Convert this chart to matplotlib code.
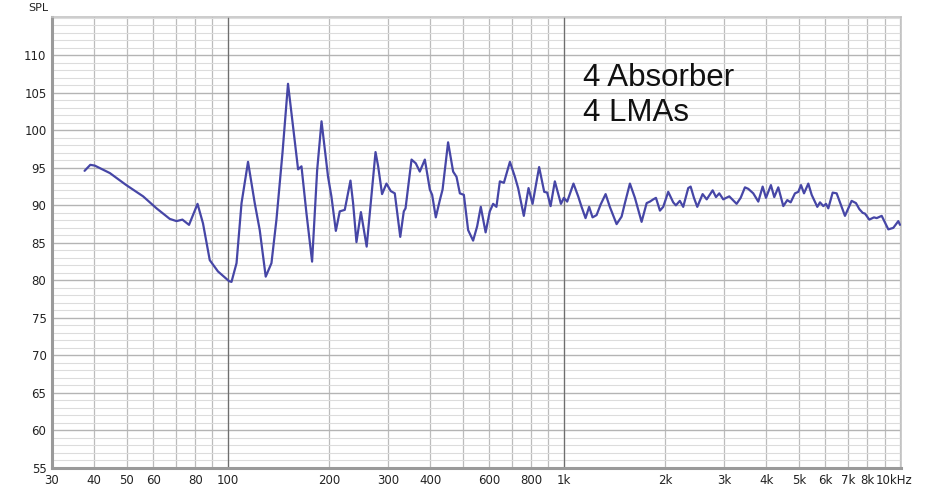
import matplotlib
matplotlib.use("Agg")
import matplotlib.pyplot as plt
import matplotlib.transforms as mtransforms

freq_hz = [37.5, 39.0, 40.2, 44.6, 49.9, 56.0, 61.4, 67.2, 70.4, 73.3, 76.7, 81.3, 84.4, 88.4,
           93.5, 100.9, 102.6, 106.2, 109.9, 114.9, 120.3, 124.5, 129.7, 134.9, 139.6, 145.5,
           151.1, 156.4, 161.9, 165.7, 171.4, 178.2, 184.5, 190.1, 198.8, 203.4, 209.7, 215.4,
           222.9, 231.8, 236, 241.5, 249, 259, 268, 275.2, 280.2, 287.8, 296.6, 305.5, 314,
           326, 334, 338, 352.2, 362.6, 372.7, 385.8, 399.3, 405.6, 415.9, 427.6, 435.6, 452.4,
           468.3, 479.3, 490.4, 504, 519, 537, 552, 566, 585, 602, 616, 630, 645, 663, 691, 715,
           731, 760, 785, 807, 844, 874, 892, 913, 940, 980, 1000, 1023, 1068, 1103, 1129, 1160,
           1189, 1217, 1251, 1286, 1331, 1370, 1435, 1485, 1519, 1572, 1627, 1703, 1763, 1803,
           1845, 1879, 1931, 1975, 2044, 2115, 2154, 2213, 2265, 2344, 2383, 2438, 2494, 2587,
           2660, 2771, 2835, 2900, 2979, 3105, 3265, 3357, 3457, 3537, 3660, 3788, 3903, 3993,
           4130, 4226, 4344, 4496, 4620, 4729, 4870, 4983, 5076, 5181, 5336, 5461, 5675, 5781,
           5914, 6024, 6119, 6305, 6480, 6628, 6859, 7180, 7396, 7568, 7745, 7866, 8103, 8368,
           8525, 8822, 9232, 9552, 9885, 10000]
spl_db = [94.6, 95.4, 95.3, 94.3, 92.7, 91.2, 89.6, 88.2, 87.9, 88.1, 87.4, 90.2, 87.6, 82.7,
          81.2, 79.9, 79.8, 82.3, 90.3, 95.8, 90.3, 86.7, 80.5, 82.3, 88.1, 97.0,
          106.2, 100.5, 94.8, 95.2, 89.0, 82.5, 94.7, 101.2, 93.8, 91.2, 86.6, 89.2,
          89.4, 93.3, 90.3, 85.1, 89.1, 84.5, 91.6, 97.1, 95.2, 91.5, 92.9, 91.9, 91.6,
          85.8, 89.2, 89.6, 96.1, 95.6, 94.5, 96.1, 92.1, 91.4, 88.4, 90.7, 92.1, 98.4,
          94.5, 93.8, 91.6, 91.4, 86.7, 85.3, 87.2, 89.8, 86.4, 89.2, 90.2, 89.8, 93.2, 93.0, 95.8, 93.8,
          92.3, 88.6, 92.3, 90.2, 95.1, 91.8, 91.7, 89.9, 93.2, 90.2, 91.0, 90.5, 92.9, 91.2, 89.8, 88.3,
          89.8, 88.4, 88.7, 90.1, 91.5, 89.8, 87.5, 88.5, 90.3, 92.9, 91.0, 87.8, 90.3, 90.5,
          90.8, 91.0, 89.3, 89.8, 91.8, 90.4, 90.0, 90.6, 89.8, 92.3, 92.5, 91.0, 89.8, 91.5,
          90.8, 92.0, 91.1, 91.6, 90.8, 91.2, 90.2, 91.0, 92.4, 92.2, 91.6, 90.5, 92.5, 91.0,
          92.7, 91.1, 92.4, 89.9, 90.7, 90.4, 91.6, 91.8, 92.7, 91.6, 92.9, 91.4, 89.8, 90.4,
          89.9, 90.2, 89.6, 91.7, 91.6, 90.4, 88.6, 90.6, 90.3, 89.5, 89.0, 88.9, 88.1, 88.4,
          88.3, 88.6, 86.8, 87.0, 87.9, 87.4]

grid_freqs = [30, 40, 50, 60, 70, 80, 90, 100, 200, 300, 400, 500, 600, 700, 800, 900,
              1000, 2000, 3000, 4000, 5000, 6000, 7000, 8000, 9000, 10000]
grid_labels = ["30", "40", "50", "60", "", "80", "", "100", "200", "300", "400", "", "600", "",
               "800", "", "1k", "2k", "3k", "4k", "5k", "6k", "7k", "8k", "", "10kHz"]
y_major = list(range(55, 111, 5))
y_minor = list(range(55, 116, 1))
annotation_lines = ["4 Absorber", "4 LMAs"]

W, H = 926, 492
fig = plt.figure(figsize=(W / 100, H / 100), dpi=100)
ax = fig.add_axes([52 / W, (H - 468) / H, 849 / W, 451 / H])
ax.set_xscale("log")
ax.set_xlim(30, 10069)
ax.set_ylim(55, 115.1)

ax.set_yticks(y_minor, minor=True)
ax.set_yticks(y_major)
ax.set_yticklabels([str(v) for v in y_major])
ax.set_xticks(grid_freqs)
ax.set_xticklabels(grid_labels)
ax.xaxis.set_minor_locator(matplotlib.ticker.NullLocator())

ax.grid(True, axis="y", which="minor", color="#dcdcdc", linewidth=0.8, zorder=0)
ax.grid(True, axis="y", which="major", color="#b4b4b4", linewidth=1.0, zorder=0)
ax.grid(True, axis="x", which="major", color="#bcbcbc", linewidth=0.9, zorder=0)
for f in (100, 1000):
    ax.axvline(f, color="#6e6e6e", linewidth=0.9, zorder=1)
ax.set_axisbelow(True)

ax.tick_params(axis="both", which="both", length=0, labelsize=8.5, colors="#222222")
ax.tick_params(axis="y", pad=4)
ax.tick_params(axis="x", pad=4)

# shift the "10kHz" label slightly left as in the reference
for lbl in ax.get_xticklabels():
    if lbl.get_text() == "10kHz":
        lbl.set_transform(lbl.get_transform() + mtransforms.ScaledTranslation(-6 / 100, 0, fig.dpi_scale_trans))

for side in ("left", "bottom"):
    ax.spines[side].set_color("#9a9a9a")
    ax.spines[side].set_linewidth(2.2)
for side in ("top", "right"):
    ax.spines[side].set_color("#c4c4c4")
    ax.spines[side].set_linewidth(1.2)

ax.plot(freq_hz, spl_db, color="#4646a6", linewidth=1.6, solid_joinstyle="round",
        solid_capstyle="round", zorder=3)

fig.text(38 / W, 1 - 8 / H, "SPL", ha="center", va="center", fontsize=8, color="#222222")
fig.text(583 / W, 1 - 86 / H, annotation_lines[0], ha="left", va="baseline",
         fontsize=22.5, family="Liberation Sans", color="#111111")
fig.text(583 / W, 1 - 121 / H, annotation_lines[1], ha="left", va="baseline",
         fontsize=22.5, family="Liberation Sans", color="#111111")

fig.savefig("out.png", dpi=100)
